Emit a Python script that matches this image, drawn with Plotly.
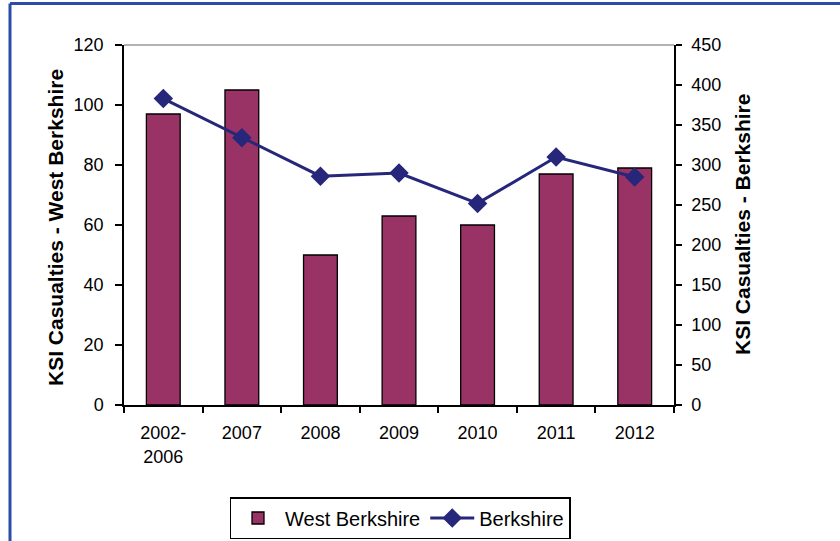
import plotly.graph_objects as go

categories = ["2002-<br>2006", "2007", "2008", "2009", "2010", "2011", "2012"]
west_berkshire = [97, 105, 50, 63, 60, 77, 79]
berkshire = [383, 334, 286, 290, 252, 310, 285]
left_ticks = [0, 20, 40, 60, 80, 100, 120]
right_ticks = [0, 50, 100, 150, 200, 250, 300, 350, 400, 450]

W, H = 840, 541
L, R, T, B = 124, 674, 45, 405

def px(x):
    return (x - L) / (R - L)

def py(y):
    return (B - y) / (B - T)

FONT = "Liberation Sans, Arial, sans-serif"

fig = go.Figure()
fig.add_trace(go.Bar(
    x=categories, y=west_berkshire, name="West Berkshire",
    marker=dict(color="#993366", line=dict(color="black", width=1.3)),
    yaxis="y",
))
fig.add_trace(go.Scatter(
    x=categories, y=berkshire, name="Berkshire", mode="lines+markers",
    line=dict(color="#26267A", width=3),
    marker=dict(symbol="diamond", size=15, color="#26267A"),
    yaxis="y2",
))

fig.update_layout(
    width=W, height=H,
    margin=dict(l=L, r=W - R, t=T, b=H - B, pad=0, autoexpand=False),
    paper_bgcolor="white", plot_bgcolor="white",
    font=dict(family=FONT, size=18, color="black"),
    bargap=0.57,
    showlegend=True,
    legend=dict(
        orientation="h", x=px(400), xanchor="center", y=py(497), yanchor="top",
        bordercolor="black", borderwidth=1.5, bgcolor="white",
        font=dict(family=FONT, size=20), itemwidth=44,
        tracegroupgap=0,
    ),
    xaxis=dict(
        showline=True, linecolor="black", linewidth=1.5,
        ticks="outside", tickson="boundaries", ticklen=6, tickwidth=1.5, tickcolor="black",
        showgrid=False, zeroline=False, ticklabelstandoff=11,
        tickfont=dict(family=FONT, size=18),
    ),
    yaxis=dict(
        range=[0, 120], tickvals=left_ticks, showline=True, linecolor="black", linewidth=1.5,
        ticks="outside", ticklen=7, tickwidth=1.5, tickcolor="black",
        showgrid=False, zeroline=False, ticklabelstandoff=8,
        tickfont=dict(family=FONT, size=18),
    ),
    yaxis2=dict(
        range=[0, 450], tickvals=right_ticks, overlaying="y", side="right",
        showline=True, linecolor="black", linewidth=1.5,
        ticks="outside", ticklen=6, tickwidth=1.5, tickcolor="black",
        showgrid=False, zeroline=False, ticklabelstandoff=6,
        tickfont=dict(family=FONT, size=18),
    ),
    shapes=[
        dict(type="line", xref="paper", yref="paper", x0=0, x1=1, y0=1, y1=1,
             line=dict(color="#999999", width=1.5), layer="below"),
        dict(type="line", xref="paper", yref="paper", x0=px(10), x1=px(W + 10), y0=py(3.5), y1=py(3.5),
             line=dict(color="#2B4DA8", width=3)),
        dict(type="line", xref="paper", yref="paper", x0=px(10), x1=px(10), y0=py(3.5), y1=py(H + 10),
             line=dict(color="#2B4DA8", width=3)),
    ],
    annotations=[
        dict(text="<b>KSI Casualties - West Berkshire</b>", textangle=-90,
             xref="paper", yref="paper", x=px(55), y=py(228), xanchor="center", yanchor="middle",
             showarrow=False, font=dict(family=FONT, size=21)),
        dict(text="<b>KSI Casualties - Berkshire</b>", textangle=-90,
             xref="paper", yref="paper", x=px(742), y=py(225), xanchor="center", yanchor="middle",
             showarrow=False, font=dict(family=FONT, size=21)),
    ],
)

fig.write_html(
    "out.html",
    config={"displayModeBar": False},
    post_script="document.body.style.margin='0';document.body.style.overflow='hidden';",
)
